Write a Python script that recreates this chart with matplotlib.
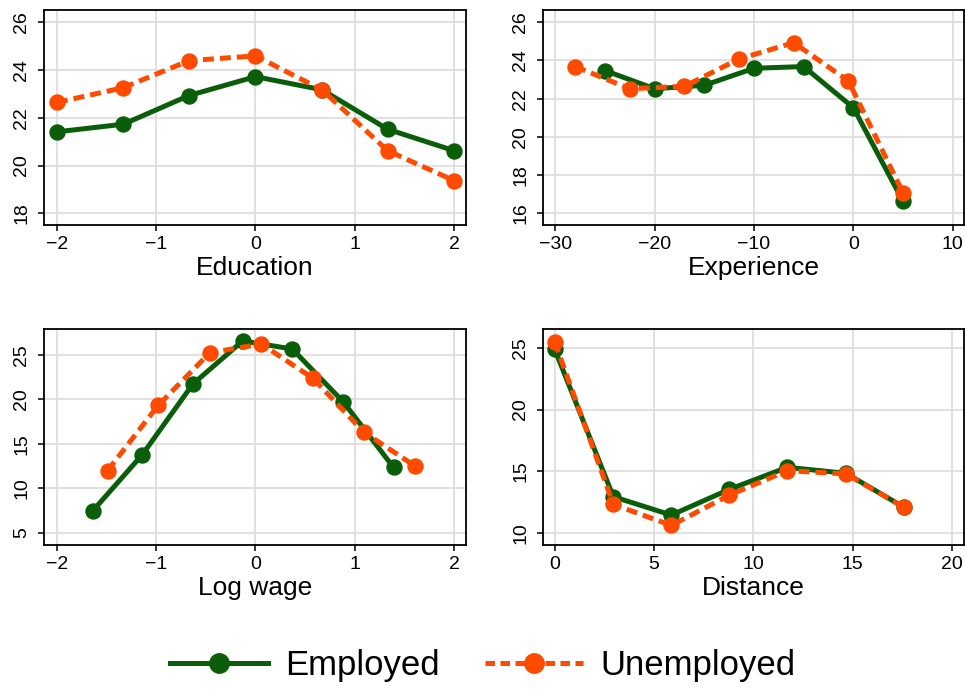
import numpy as np
import matplotlib
matplotlib.use('Agg')
import matplotlib.pyplot as plt
from matplotlib.lines import Line2D

plt.rcParams['font.family'] = ['Liberation Sans', 'DejaVu Sans']

# education panel
edu_x = [-2, -1.33, -0.67, 0, 0.67, 1.33, 2]
edu_emp = [21.41, 21.73, 22.93, 23.72, 23.17, 21.52, 20.62]
edu_unemp = [22.64, 23.26, 24.39, 24.59, 23.17, 20.62, 19.37]

# experience panel
exp_x_emp = [-25, -20, -15, -10, -5, 0, 5]
exp_emp = [23.47, 22.52, 22.70, 23.59, 23.68, 21.53, 16.63]
exp_x_unemp = [-28, -22.5, -17, -11.5, -6, -0.5, 5]
exp_unemp = [23.68, 22.52, 22.65, 24.08, 24.93, 22.93, 17.08]

# log wage panel
wage_x_emp = [-1.64, -1.14, -0.63, -0.13, 0.37, 0.885, 1.39]
wage_emp = [7.44, 13.78, 21.74, 26.58, 25.68, 19.71, 12.35]
wage_x_unemp = [-1.49, -0.98, -0.46, 0.06, 0.58, 1.09, 1.61]
wage_unemp = [11.98, 19.33, 25.26, 26.24, 22.37, 16.33, 12.47]

# distance panel
dist_x = [0, 2.95, 5.87, 8.79, 11.71, 14.66, 17.58]
dist_emp = [24.89, 12.92, 11.43, 13.52, 15.31, 14.82, 12.06]
dist_unemp = [25.49, 12.30, 10.59, 13.05, 15.04, 14.77, 12.06]

green = '#0a5e0a'
orange = '#ff4a00'
dash = (0, (2.2, 1.2))

fig = plt.figure(figsize=(9.66, 6.89), dpi=100)

W = 966.0
H = 689.0


def make_ax(x0, y0, x1, y1):
    return fig.add_axes([x0 / W, 1 - y1 / H, (x1 - x0) / W, (y1 - y0) / H])


panels = [
    # box, x emp, y emp, x unemp, y unemp, xlabel, xlim, ylim, xticks, yticks
    ((44, 10, 466, 225), edu_x, edu_emp, edu_x, edu_unemp, 'Education',
     (-2.13, 2.12), (17.51, 26.51), [-2, -1, 0, 1, 2], [18, 20, 22, 24, 26]),
    ((543, 10, 964, 225), exp_x_emp, exp_emp, exp_x_unemp, exp_unemp, 'Experience',
     (-31.24, 11.14), (15.39, 26.64), [-30, -20, -10, 0, 10], [16, 18, 20, 22, 24, 26]),
    ((44, 329, 466, 545), wage_x_emp, wage_emp, wage_x_unemp, wage_unemp, 'Log wage',
     (-2.13, 2.12), (3.61, 27.93), [-2, -1, 0, 1, 2], [5, 10, 15, 20, 25]),
    ((543, 329, 964, 545), dist_x, dist_emp, dist_x, dist_unemp, 'Distance',
     (-0.59, 20.6), (9.0, 26.54), [0, 5, 10, 15, 20], [10, 15, 20, 25]),
]

for box, xe, ye, xu, yu, xlab, xlim, ylim, xt, yt in panels:
    ax = make_ax(*box)
    ax.plot(xe, ye, color=green, lw=3.6, marker='o', ms=10.8, zorder=3)
    ax.plot(xu, yu, color=orange, lw=3.6, ls=dash, marker='o', ms=10.8, zorder=4)
    ax.set_xlim(*xlim)
    ax.set_ylim(*ylim)
    ax.set_xticks(xt)
    ax.set_yticks(yt)
    ax.grid(True, color='#dcdcdc', lw=1.2)
    ax.set_axisbelow(True)
    for s in ax.spines.values():
        s.set_linewidth(1.3)
    ax.tick_params(axis='both', direction='out', length=4, width=1.1, labelsize=14, pad=4)
    ax.tick_params(axis='y', labelrotation=90, pad=6)
    for lbl in ax.get_yticklabels():
        lbl.set_va('center')
    ax.set_xlabel(xlab, fontsize=19, labelpad=2)

# legend handles drawn a bit bigger than the plot markers
handles = [
    Line2D([], [], color=green, lw=3.6, marker='o', ms=14),
    Line2D([], [], color=orange, lw=3.6, ls=(0, (1.9, 1.1)), marker='o', ms=14),
]
fig.legend(handles, ['Employed', 'Unemployed'], loc='center',
           bbox_to_anchor=(0.5, 1 - 666 / H), ncol=2, frameon=False, fontsize=25,
           handlelength=2.8, columnspacing=1.3, handletextpad=0.52)

fig.savefig('out.png', dpi=100)
